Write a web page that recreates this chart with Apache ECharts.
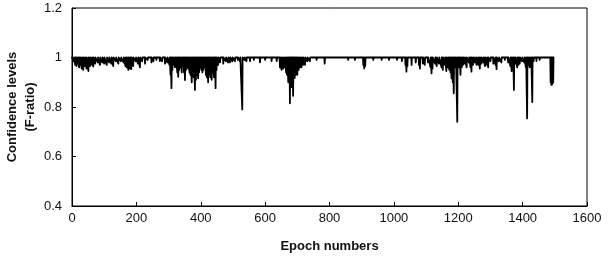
<!DOCTYPE html>
<html>
<head>
<meta charset="utf-8">
<script src="https://cdn.jsdelivr.net/npm/echarts@6/dist/echarts.min.js"></script>
<style>
  html, body { margin: 0; padding: 0; background: #fff; }
  #chart { width: 609px; height: 258px; }
</style>
</head>
<body>
<div id="chart"></div>
<script>
// 读图得到的数据：基线约为 1，列出每个下探的历元与数值
var baseLevel = 1.0;
var lastEpoch = 1496;
var dipEpochs = [
  5, 10, 14, 18, 22, 25, 30, 35, 40, 45, 51, 56, 62, 66, 72, 80, 87, 94, 100, 108,
  115, 122, 128, 136, 144, 152, 160, 166, 170, 175, 180, 184, 190, 198, 205, 211, 218, 227, 235, 247,
  253, 262, 273, 280, 289, 296, 303, 306, 309, 312, 316, 320, 323, 327, 330, 333, 337, 341, 345, 348,
  351, 354, 358, 361, 365, 368, 372, 375, 378, 382, 385, 388, 392, 395, 398, 402, 405, 408, 412, 416,
  419, 423, 426, 430, 434, 437, 441, 444, 446, 449, 454, 460, 470, 478, 485, 491, 498, 506, 515, 522,
  529, 536, 542, 553, 565, 584, 600, 620, 636, 646, 651, 656, 661, 665, 668, 672, 675, 677, 680,
  682, 684, 687, 690, 692, 695, 697, 700, 704, 708, 713, 718, 724, 731, 739, 760, 785, 858, 879, 905,
  908, 911, 936, 962, 985, 1010, 1025, 1036, 1039, 1042, 1055, 1068, 1078, 1081, 1090, 1096, 1106, 1114, 1117, 1120,
  1128, 1133, 1140, 1148, 1152, 1158, 1163, 1168, 1172, 1176, 1179, 1183, 1186, 1189, 1192, 1197, 1200, 1203, 1207,
  1211, 1215, 1220, 1226, 1233, 1238, 1241, 1246, 1251, 1257, 1263, 1267, 1272, 1278, 1283, 1289, 1293, 1300, 1309, 1316,
  1319, 1326, 1334, 1345, 1355, 1362, 1366, 1370, 1373, 1377, 1383, 1387, 1391, 1398, 1405, 1410, 1414, 1418, 1422, 1426,
  1430, 1434, 1443, 1453, 1465, 1487, 1489, 1491, 1493, 1495
];
var dipLevels = [
  0.985, 0.97, 0.965, 0.975, 0.96, 0.97, 0.955, 0.95, 0.965, 0.955, 0.945, 0.965, 0.97, 0.963, 0.975, 0.98, 0.97, 0.98, 0.975, 0.97,
  0.98, 0.975, 0.965, 0.985, 0.975, 0.985, 0.98, 0.965, 0.96, 0.95, 0.955, 0.953, 0.965, 0.985, 0.975, 0.96, 0.985, 0.975, 0.99, 0.98,
  0.985, 0.99, 0.985, 0.985, 0.975, 0.98, 0.97, 0.93, 0.876, 0.95, 0.97, 0.96, 0.975, 0.94, 0.922, 0.95, 0.96, 0.94, 0.97, 0.94,
  0.909, 0.95, 0.96, 0.955, 0.94, 0.93, 0.9, 0.93, 0.92, 0.869, 0.91, 0.93, 0.916, 0.94, 0.96, 0.95, 0.94, 0.95, 0.96, 0.93,
  0.92, 0.9, 0.93, 0.92, 0.91, 0.94, 0.92, 0.92, 0.876, 0.95, 0.97, 0.98, 0.975, 0.985, 0.98, 0.98, 0.985, 0.985, 0.99, 0.985,
  0.79, 0.99, 0.985, 0.985, 0.99, 0.98, 0.99, 0.985, 0.985, 0.96, 0.95, 0.955, 0.96, 0.94, 0.93, 0.9, 0.92, 0.815, 0.9,
  0.88, 0.92, 0.845, 0.92, 0.917, 0.93, 0.94, 0.93, 0.95, 0.96, 0.96, 0.97, 0.97, 0.985, 0.985, 0.99, 0.975, 0.99, 0.99, 0.97,
  0.956, 0.965, 0.99, 0.99, 0.99, 0.99, 0.985, 0.97, 0.943, 0.965, 0.97, 0.98, 0.97, 0.955, 0.975, 0.97, 0.98, 0.96, 0.936, 0.955,
  0.975, 0.965, 0.975, 0.96, 0.95, 0.97, 0.945, 0.96, 0.95, 0.94, 0.916, 0.9, 0.855, 0.96, 0.97, 0.74, 0.96, 0.96, 0.93,
  0.96, 0.97, 0.975, 0.96, 0.98, 0.96, 0.943, 0.97, 0.98, 0.97, 0.97, 0.955, 0.975, 0.98, 0.965, 0.97, 0.96, 0.985, 0.975, 0.97,
  0.953, 0.985, 0.98, 0.99, 0.98, 0.965, 0.945, 0.97, 0.869, 0.975, 0.96, 0.97, 0.975, 0.985, 0.98, 0.96, 0.754, 0.97, 0.96, 0.97,
  0.82, 0.985, 0.985, 0.99, 0.995, 0.9, 0.89, 0.89, 0.895, 0.9
];
var xTicks = [0, 200, 400, 600, 800, 1000, 1200, 1400, 1600];
var yTicks = [0.4, 0.6, 0.8, 1.0, 1.2];

// 组装折线点：每个下探前后回到基线
var points = [[0, baseLevel]];
for (var i = 0; i < dipEpochs.length; i++) {
  var e = dipEpochs[i];
  if (points[points.length - 1][0] < e - 1) points.push([e - 1, baseLevel]);
  points.push([e, dipLevels[i]]);
  points.push([e + 1, baseLevel]);
}
points.push([lastEpoch, baseLevel]);

var chart = echarts.init(document.getElementById('chart'));
var font = 'Liberation Sans, Arial, sans-serif';
var option = {
  animation: false,
  backgroundColor: '#fff',
  grid: {
    left: 72, right: 22, top: 8, bottom: 52,
    containLabel: false,
    outerBoundsMode: 'none',
    show: true, borderColor: '#000', borderWidth: 1
  },
  xAxis: {
    type: 'value',
    min: xTicks[0], max: xTicks[xTicks.length - 1], interval: 200,
    name: 'Epoch numbers',
    nameLocation: 'middle',
    nameGap: 34,
    nameMoveOverlap: false,
    nameTextStyle: { color: '#111', fontFamily: font, fontSize: 13, fontWeight: 'bold' },
    axisLine: { lineStyle: { color: '#000', width: 1 } },
    axisTick: { inside: true, length: 4, lineStyle: { color: '#000' } },
    axisLabel: { color: '#111', fontFamily: font, fontSize: 13, margin: 6, formatter: function (v) { return String(v); } },
    splitLine: { show: false }
  },
  yAxis: {
    type: 'value',
    min: yTicks[0], max: yTicks[yTicks.length - 1], interval: 0.2,
    name: 'Confidence levels\n(F-ratio)',
    nameLocation: 'middle',
    nameGap: 33,
    nameMoveOverlap: false,
    nameTextStyle: { color: '#111', fontFamily: font, fontSize: 13, fontWeight: 'bold', lineHeight: 18 },
    axisLine: { lineStyle: { color: '#000', width: 1 } },
    axisTick: { inside: true, length: 4, lineStyle: { color: '#000' } },
    axisLabel: { color: '#111', fontFamily: font, fontSize: 13, margin: 10 },
    splitLine: { show: false }
  },
  series: [{
    type: 'line',
    data: points,
    showSymbol: false,
    lineStyle: { color: '#000', width: 1.8, join: 'round', cap: 'round' },
    emphasis: { disabled: true }
  }]
};
chart.setOption(option);
</script>
</body>
</html>
